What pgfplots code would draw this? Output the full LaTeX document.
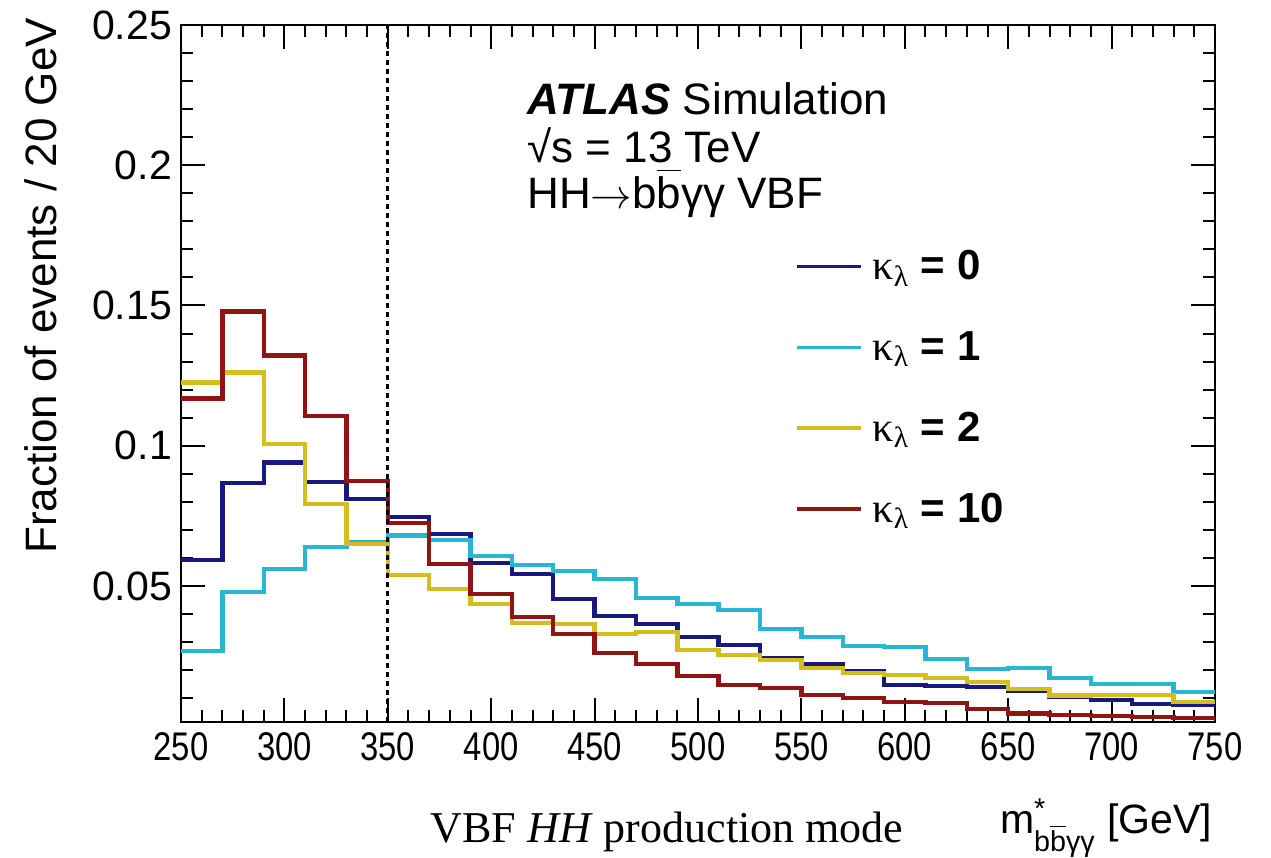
\documentclass[border=0pt]{standalone}
\usepackage{amsmath}
\usepackage{graphicx}
\usepackage{fontspec}
\setmainfont{Liberation Sans}
\newfontfamily\serif{Liberation Serif}
\usepackage{pgfplots}
\usepackage{pgfplotstable}
\pgfplotsset{compat=1.18}

\definecolor{cblue}{RGB}{25,25,125}
\definecolor{ccyan}{RGB}{40,182,210}
\definecolor{cyell}{RGB}{212,190,28}
\definecolor{cred}{RGB}{145,20,20}

\pgfplotstableread{
x y
250 0.0593
270 0.0868
290 0.0940
310 0.0871
330 0.0809
350 0.0745
370 0.0686
390 0.0582
410 0.0543
430 0.0454
450 0.0393
470 0.0364
490 0.0318
510 0.0289
530 0.0243
550 0.0221
570 0.0196
590 0.0146
610 0.0143
630 0.0140
650 0.0127
670 0.0104
690 0.0093
710 0.0080
730 0.0075
750 0.0075
}\kzero

\pgfplotstableread{
x y
250 0.0268
270 0.0479
290 0.0561
310 0.0639
330 0.0655
350 0.0680
370 0.0664
390 0.0607
410 0.0575
430 0.0554
450 0.0525
470 0.0457
490 0.0436
510 0.0414
530 0.0346
550 0.0318
570 0.0286
590 0.0282
610 0.0239
630 0.0204
650 0.0207
670 0.0171
690 0.0150
710 0.0150
730 0.0121
750 0.0121
}\kone

\pgfplotstableread{
x y
250 0.1225
270 0.1261
290 0.1007
310 0.0793
330 0.0650
350 0.0539
370 0.0489
390 0.0436
410 0.0368
430 0.0364
450 0.0329
470 0.0336
490 0.0271
510 0.0254
530 0.0236
550 0.0207
570 0.0189
590 0.0182
610 0.0171
630 0.0157
650 0.0132
670 0.0110
690 0.0112
710 0.0112
730 0.0086
750 0.0086
}\ktwo

\pgfplotstableread{
x y
250 0.1168
270 0.1479
290 0.1321
310 0.1107
330 0.0875
350 0.0725
370 0.0579
390 0.0471
410 0.0389
430 0.0329
450 0.0261
470 0.0221
490 0.0179
510 0.0146
530 0.0136
550 0.0111
570 0.0100
590 0.0086
610 0.0082
630 0.0061
650 0.0046
670 0.0039
690 0.0036
710 0.0032
730 0.0030
750 0.0030
}\kten

\begin{document}
\begin{tikzpicture}
\begin{axis}[
  scale only axis,
  width=517pt, height=348.5pt,
  xmin=250, xmax=750, ymin=0.0015, ymax=0.25,
  xtick={250,300,350,400,450,500,550,600,650,700,750},
  minor xtick={260,270,280,290,310,320,330,340,360,370,380,390,410,420,430,440,460,470,480,490,510,520,530,540,560,570,580,590,610,620,630,640,660,670,680,690,710,720,730,740},
  ytick={0.05,0.1,0.15,0.2,0.25},
  minor ytick={0.01,0.02,0.03,0.04,0.06,0.07,0.08,0.09,0.11,0.12,0.13,0.14,0.16,0.17,0.18,0.19,0.21,0.22,0.23,0.24},
  tick align=inside,
  major tick length=12pt, minor tick length=6pt,
  axis line style={line width=1.3pt},
  every tick/.style={black, line width=1pt},
  /pgf/number format/assume math mode=true,
  yticklabel style={font=\fontsize{20.5}{24}\selectfont, /pgf/number format/fixed, /pgf/number format/precision=2, xshift=-1pt},
  xticklabel={\scalebox{0.82}[1]{\pgfmathprintnumber{\tick}}},
  xticklabel style={font=\fontsize{20}{24}\selectfont, yshift=-2pt},
  ylabel={Fraction of events / 20 GeV},
  ylabel style={at={(axis description cs:-0.136,1.02)}, anchor=east, font=\fontsize{22}{26}\selectfont},
  xlabel={m$^{\text{*}}_{\text{b}\overline{\text{b}}\text{γγ}}$ [GeV]},
  xlabel style={at={(axis description cs:1.004,-0.16)}, anchor=base east, font=\fontsize{20.5}{24}\selectfont},
  legend style={at={(axis description cs:0.594,0.68)}, anchor=north west, draw=none, fill=none,
    font=\fontsize{21}{25}\selectfont, row sep=22.3pt, inner sep=0pt,
    nodes={inner sep=1pt},
    /tikz/every odd column/.style={column sep=4pt}},
  legend cell align=left,
  legend image code/.code={\draw[#1, line width=1.6pt] (0pt,0pt) -- (32pt,0pt);},
]
\addplot[const plot, cblue, line width=2.2pt] table[x=x,y=y] {\kzero};
\addlegendentry{{\serif κ}\textsubscript{\serif λ}\textbf{ = 0}}
\addplot[const plot, ccyan, line width=2.2pt] table[x=x,y=y] {\kone};
\addlegendentry{{\serif κ}\textsubscript{\serif λ}\textbf{ = 1}}
\addplot[const plot, cyell, line width=2.2pt] table[x=x,y=y] {\ktwo};
\addlegendentry{{\serif κ}\textsubscript{\serif λ}\textbf{ = 2}}
\addplot[const plot, cred, line width=2.2pt] table[x=x,y=y] {\kten};
\addlegendentry{{\serif κ}\textsubscript{\serif λ}\textbf{ = 10}}
\addplot[black, line width=1.5pt, dash pattern=on 2.5pt off 2pt, forget plot] coordinates {(350,0.0015) (350,0.25)};

\node[anchor=base west, font=\fontsize{22}{26}\selectfont] at (axis description cs:0.3281,0.8709) {\textbf{\textit{ATLAS}} Simulation};
\node[anchor=base west, font=\fontsize{22}{26}\selectfont] at (axis description cs:0.3281,0.8034) {√s = 13 TeV};
\node[anchor=base west, font=\fontsize{22}{26}\selectfont] at (axis description cs:0.3281,0.7374) {HH$\rightarrow$b$\overline{\text{b}}$γγ VBF};
\end{axis}
\node[anchor=base, font=\serif\fontsize{22}{26}\selectfont] at ([xshift=243pt, yshift=-60pt]current axis.south west) {VBF \textit{HH} production mode};
\pgfresetboundingbox
\path (current axis.south west) ++(-90.5pt,-68pt) rectangle ++(635.5pt,429pt);
\end{tikzpicture}
\end{document}
